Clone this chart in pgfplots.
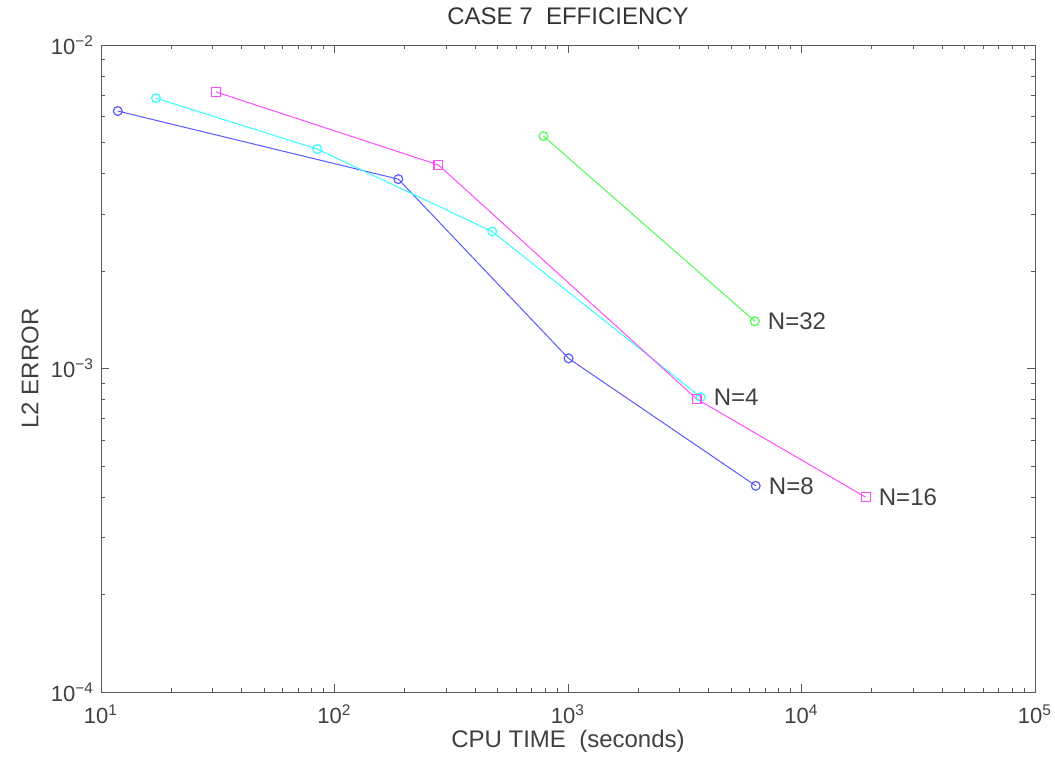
\documentclass[border=0pt]{standalone}
\usepackage{pgfplots}
\pgfplotsset{compat=1.18}
\usepackage{fontspec}
\setmainfont{Liberation Sans}

\definecolor{nfour}{rgb}{0.2,1,1}
\definecolor{neight}{rgb}{0.35,0.35,1}
\definecolor{nsixteen}{rgb}{1,0.3,1}
\definecolor{nthirtytwo}{rgb}{0.3,1,0.3}

\begin{document}
\begin{tikzpicture}
\begin{axis}[
  scale only axis,
  width=467pt, height=323.5pt,
  xmode=log, ymode=log,
  xmin=10, xmax=1e5, ymin=1e-4, ymax=1e-2,
  xtick={10,100,1000,10000,100000},
  xticklabels={10\textsuperscript{1},10\textsuperscript{2},10\textsuperscript{3},10\textsuperscript{4},10\textsuperscript{5}},
  ytick={1e-4,1e-3,1e-2},
  yticklabels={10\textsuperscript{−4},10\textsuperscript{−3},10\textsuperscript{−2}},
  tick label style={font=\fontsize{11}{12}\selectfont, text=black!75},
  xticklabel style={yshift=-3pt},
  title={CASE 7\ \ EFFICIENCY},
  title style={font=\fontsize{12}{13}\selectfont, text=black!80, at={(axis description cs:0.5,1.026)}, anchor=center},
  xlabel={CPU TIME\ \ (seconds)},
  ylabel={L2 ERROR},
  label style={font=\fontsize{12}{13}\selectfont, text=black!75},
  xlabel style={at={(axis description cs:0.5,-0.0757)}, anchor=center},
  ylabel style={at={(axis description cs:-0.076,0.5)}, anchor=center},
  axis line style={gray!70!black},
  every tick/.style={gray!70!black},
  major tick length=4pt, minor tick length=2pt,
  every axis plot/.append style={line width=0.5pt, mark size=2.2pt, mark options={solid, line width=0.6pt}},
]
% N=8
\addplot[color=neight, mark=o] coordinates {
  (11.8,6.25e-3) (187.7,3.85e-3) (1005,1.075e-3) (6370,4.34e-4)
} node[pos=1, anchor=west, black!75, font=\fontsize{12}{13}\selectfont, xshift=3pt] {N=8};
% N=4
\addplot[color=nfour, mark=o] coordinates {
  (17.2,6.85e-3) (84.3,4.77e-3) (474,2.65e-3) (3700,8.16e-4)
} node[pos=1, anchor=west, black!75, font=\fontsize{12}{13}\selectfont, xshift=3pt] {N=4};
% N=16
\addplot[color=nsixteen, mark=square] coordinates {
  (31.1,7.16e-3) (278.6,4.26e-3) (3556,8.05e-4) (18840,4.0e-4)
} node[pos=1, anchor=west, black!75, font=\fontsize{12}{13}\selectfont, xshift=3pt] {N=16};
% N=32
\addplot[color=nthirtytwo, mark=o] coordinates {
  (785,5.23e-3) (6310,1.40e-3)
} node[pos=1, anchor=west, black!75, font=\fontsize{12}{13}\selectfont, xshift=3pt] {N=32};
\end{axis}
\pgfresetboundingbox
\path[use as bounding box] ([xshift=-50.5pt,yshift=-32pt]current axis.south west) rectangle ([xshift=10pt,yshift=22.5pt]current axis.north east);
\end{tikzpicture}
\end{document}
